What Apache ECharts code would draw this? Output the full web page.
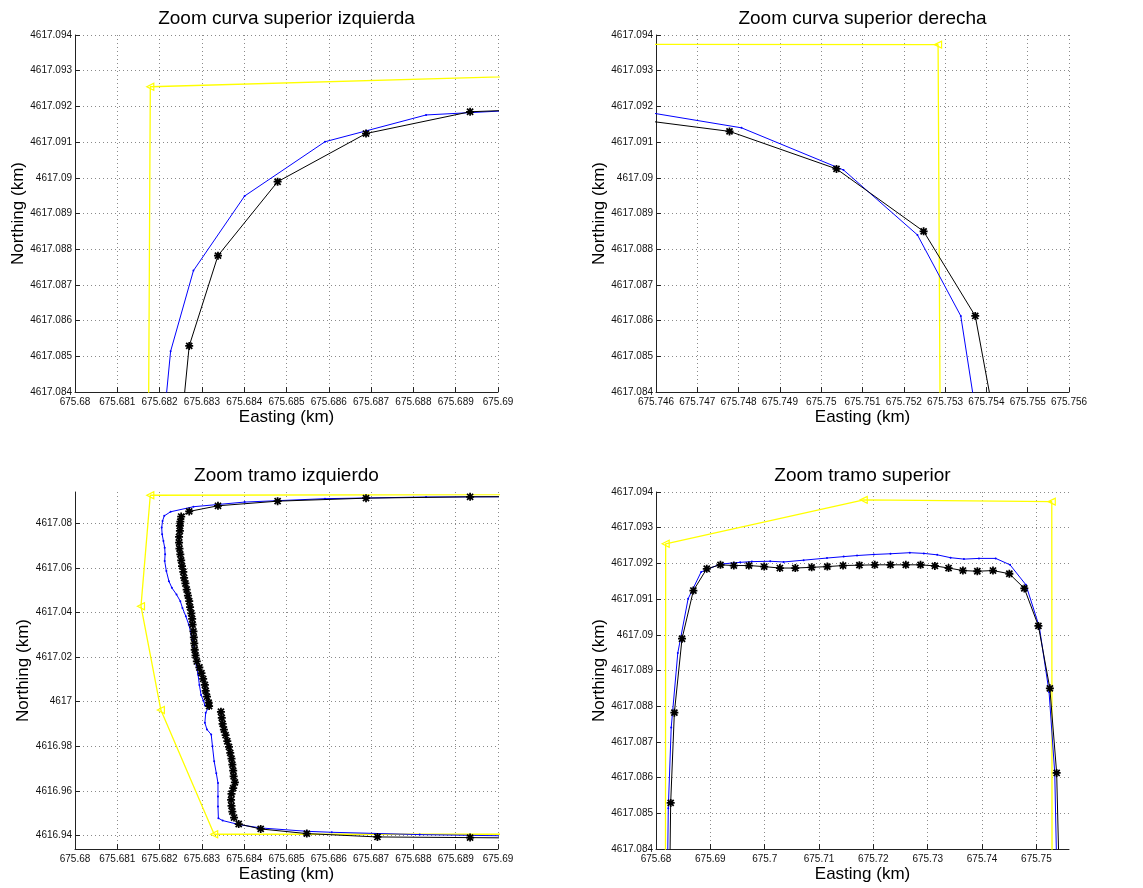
<!DOCTYPE html>
<html>
<head>
<meta charset="utf-8">
<script src="https://cdn.jsdelivr.net/npm/echarts@6/dist/echarts.min.js"></script>
<style>
  html, body { margin: 0; padding: 0; background: #fff; }
  #chart { width: 1143px; height: 888px; }
</style>
</head>
<body>
<div id="chart"></div>
<script>
// Track coordinates, [Easting km, Northing km]

// Reference polygon (vertices marked with triangles)
const yellowTrack = [
  [675.75290, 4617.07900],
  [675.75283, 4617.09373],
  [675.71823, 4617.09378],
  [675.68178, 4617.09255],
  [675.68156, 4617.04283],
  [675.68203, 4616.99627],
  [675.68329, 4616.94060],
  [675.70000, 4616.94060]
];

// Continuous trajectory
const blueTrack = [
  [675.75400, 4617.08150], [675.75338, 4617.08613], [675.75233, 4617.08840],
  [675.75054, 4617.09022], [675.74807, 4617.09140], [675.74515, 4617.09196],
  [675.74251, 4617.09214], [675.73943, 4617.09214], [675.73667, 4617.09212],
  [675.73421, 4617.09216], [675.73175, 4617.09224], [675.72929, 4617.09228],
  [675.72671, 4617.09230], [675.72315, 4617.09227], [675.72007, 4617.09225],
  [675.71700, 4617.09222], [675.71454, 4617.09219], [675.71147, 4617.09215],
  [675.70717, 4617.09209], [675.70348, 4617.09204], [675.70102, 4617.09206],
  [675.69764, 4617.09205], [675.69549, 4617.09203], [675.69180, 4617.09198],
  [675.68830, 4617.09176], [675.68690, 4617.09132], [675.68591, 4617.09101],
  [675.68401, 4617.08949], [675.68280, 4617.08740], [675.68226, 4617.08514],
  [675.68211, 4617.08330], [675.68207, 4617.08105], [675.68205, 4617.07805],
  [675.68206, 4617.07505], [675.68209, 4617.07205], [675.68212, 4617.06905],
  [675.68213, 4617.06605], [675.68212, 4617.06305], [675.68216, 4617.05855],
  [675.68222, 4617.05405], [675.68229, 4617.05105], [675.68240, 4617.04805],
  [675.68249, 4617.04505], [675.68254, 4617.04205], [675.68262, 4617.03830],
  [675.68269, 4617.03455], [675.68275, 4617.03005], [675.68280, 4617.02555],
  [675.68283, 4617.02105], [675.68287, 4617.01655], [675.68291, 4617.01205],
  [675.68294, 4617.00755], [675.68298, 4617.00305], [675.68304, 4617.00030],
  [675.68307, 4616.99835], [675.68317, 4616.99805], [675.68309, 4616.99505],
  [675.68307, 4616.99055], [675.68312, 4616.98755], [675.68322, 4616.98530],
  [675.68325, 4616.98000], [675.68329, 4616.97330], [675.68334, 4616.96800],
  [675.68338, 4616.96355], [675.68338, 4616.95755], [675.68338, 4616.95305],
  [675.68339, 4616.94780], [675.68349, 4616.94674], [675.68388, 4616.94493],
  [675.68439, 4616.94343], [675.68548, 4616.94194], [675.68607, 4616.94149],
  [675.68815, 4616.94045], [675.69200, 4616.93940]
];

// Sampled positions, northern run (right side, top, upper left side)
const blackTrackNorth = [
  [675.75447, 4617.08150], [675.75373, 4617.08613], [675.75248, 4617.08850],
  [675.75037, 4617.09025], [675.74778, 4617.09130], [675.74502, 4617.09171],
  [675.74201, 4617.09180], [675.73913, 4617.09178], [675.73648, 4617.09180],
  [675.73384, 4617.09187], [675.73132, 4617.09193], [675.72868, 4617.09196],
  [675.72597, 4617.09196], [675.72314, 4617.09196], [675.72026, 4617.09196],
  [675.71743, 4617.09195], [675.71442, 4617.09194], [675.71153, 4617.09191],
  [675.70864, 4617.09189], [675.70563, 4617.09187], [675.70280, 4617.09187],
  [675.69991, 4617.09191], [675.69709, 4617.09194], [675.69432, 4617.09194],
  [675.69186, 4617.09196], [675.68934, 4617.09185], [675.68688, 4617.09124],
  [675.68479, 4617.08989], [675.68338, 4617.08782], [675.68270, 4617.08529],
  [675.68251, 4617.08300], [675.68249, 4617.08075], [675.68248, 4617.07880],
  [675.68248, 4617.07655], [675.68246, 4617.07385], [675.68246, 4617.07130],
  [675.68247, 4617.06860], [675.68249, 4617.06605], [675.68251, 4617.06335],
  [675.68253, 4617.06080], [675.68256, 4617.05825], [675.68258, 4617.05555],
  [675.68261, 4617.05300], [675.68264, 4617.05030], [675.68267, 4617.04760],
  [675.68270, 4617.04505], [675.68272, 4617.04235], [675.68275, 4617.03965],
  [675.68277, 4617.03710], [675.68278, 4617.03455], [675.68280, 4617.03155],
  [675.68281, 4617.02885], [675.68282, 4617.02615], [675.68283, 4617.02330],
  [675.68285, 4617.02075], [675.68288, 4617.01805], [675.68294, 4617.01535],
  [675.68299, 4617.01280], [675.68303, 4617.01025], [675.68307, 4617.00755],
  [675.68309, 4617.00485], [675.68312, 4617.00225], [675.68316, 4616.99955],
  [675.68317, 4616.99806]
];

// Sampled positions, southern run (lower left side, bottom)
const blackTrackSouth = [
  [675.68345, 4616.99550], [675.68347, 4616.99280], [675.68349, 4616.99010],
  [675.68352, 4616.98755], [675.68356, 4616.98500], [675.68360, 4616.98230],
  [675.68364, 4616.97975], [675.68367, 4616.97705], [675.68370, 4616.97450],
  [675.68372, 4616.97180], [675.68374, 4616.96910], [675.68375, 4616.96655],
  [675.68378, 4616.96385], [675.68374, 4616.96130], [675.68370, 4616.95875],
  [675.68369, 4616.95605], [675.68370, 4616.95335], [675.68372, 4616.95080],
  [675.68376, 4616.94810], [675.68387, 4616.94520], [675.68439, 4616.94299],
  [675.68548, 4616.94090], [675.68715, 4616.93940], [675.68934, 4616.93910],
  [675.69160, 4616.93880]
];

// Tick values
const eastTicksWest = [675.680, 675.681, 675.682, 675.683, 675.684, 675.685, 675.686, 675.687, 675.688, 675.689, 675.690];
const eastTicksEast = [675.746, 675.747, 675.748, 675.749, 675.750, 675.751, 675.752, 675.753, 675.754, 675.755, 675.756];
const eastTicksWide = [675.68, 675.69, 675.70, 675.71, 675.72, 675.73, 675.74, 675.75];
const northTicksTop = [4617.084, 4617.085, 4617.086, 4617.087, 4617.088, 4617.089, 4617.090, 4617.091, 4617.092, 4617.093, 4617.094];
const northTicksWest = [4616.94, 4616.96, 4616.98, 4617.00, 4617.02, 4617.04, 4617.06, 4617.08];

const panelTitles = [
  'Zoom curva superior izquierda',
  'Zoom curva superior derecha',
  'Zoom tramo izquierdo',
  'Zoom tramo superior'
];

// Panel layout and axis windows
const panels = [
  { left: 75,  top: 35,  width: 423, height: 357, xr: [675.68, 675.69],  yr: [4617.084, 4617.094], xt: eastTicksWest, yt: northTicksTop, yGap: 46 },
  { left: 656, top: 35,  width: 413, height: 357, xr: [675.746, 675.756], yr: [4617.084, 4617.094], xt: eastTicksEast, yt: northTicksTop, yGap: 46 },
  { left: 75,  top: 492, width: 423, height: 357, xr: [675.68, 675.69],  yr: [4616.934, 4617.094], xt: eastTicksWest, yt: northTicksWest, yGap: 42 },
  { left: 656, top: 492, width: 413, height: 357, xr: [675.68, 675.756], yr: [4617.084, 4617.094], xt: eastTicksWide, yt: northTicksTop, yGap: 46 }
];

const FONT = '"Liberation Sans", Arial, Helvetica, sans-serif';
// Eight-armed asterisk marker
const ASTERISK = 'path://M3.9,0L6.1,0L6.1,10L3.9,10Z M0,3.9L10,3.9L10,6.1L0,6.1Z ' +
  'M0.43,1.97L1.97,0.43L9.57,8.03L8.03,9.57Z M8.03,0.43L9.57,1.97L1.97,9.57L0.43,8.03Z';

function fmt(v) { return String(+(+v).toFixed(3)); }

const grid = [], xAxis = [], yAxis = [], series = [], graphic = [];

panels.forEach((p, i) => {
  grid.push({ left: p.left, top: p.top, width: p.width, height: p.height, containLabel: false });

  const common = {
    type: 'value',
    gridIndex: i,
    nameLocation: 'middle',
    nameTextStyle: { fontFamily: FONT, fontSize: 17, color: '#000' },
    axisLine: { show: true, onZero: false, lineStyle: { color: '#222', width: 1 } },
    axisTick: { show: true, inside: true, length: 5, lineStyle: { color: '#222', width: 1 } },
    axisLabel: { fontFamily: FONT, fontSize: 10, color: '#111', formatter: fmt },
    splitLine: { show: true, lineStyle: { color: '#8a8a8a', width: 1, type: [1, 3] } }
  };

  xAxis.push(Object.assign({}, common, {
    name: 'Easting (km)', nameGap: 17, position: 'bottom',
    min: p.xr[0], max: p.xr[1],
    axisTick: Object.assign({}, common.axisTick, { customValues: p.xt }),
    axisLabel: Object.assign({}, common.axisLabel, { customValues: p.xt, margin: 5 })
  }));
  yAxis.push(Object.assign({}, common, {
    name: 'Northing (km)', nameGap: p.yGap, position: 'left',
    min: p.yr[0], max: p.yr[1],
    axisTick: Object.assign({}, common.axisTick, { customValues: p.yt }),
    axisLabel: Object.assign({}, common.axisLabel, { customValues: p.yt, margin: 3 })
  }));

  series.push({
    type: 'line', xAxisIndex: i, yAxisIndex: i, data: yellowTrack, clip: true,
    symbol: 'triangle', symbolRotate: 90, symbolSize: 7, showSymbol: true,
    lineStyle: { color: '#ffff00', width: 1.3 },
    itemStyle: { color: 'rgba(255,255,255,0)', borderColor: '#ffff00', borderWidth: 1.2 },
    z: 2
  });
  series.push({
    type: 'line', xAxisIndex: i, yAxisIndex: i, data: blueTrack, clip: true,
    symbol: 'circle', symbolSize: 2, showSymbol: true,
    lineStyle: { color: '#0000ff', width: 1 },
    itemStyle: { color: '#0000ff' },
    z: 3
  });
  [blackTrackNorth, blackTrackSouth].forEach(track => {
    series.push({
      type: 'line', xAxisIndex: i, yAxisIndex: i, data: track, clip: true,
      symbol: ASTERISK, symbolSize: 8, showSymbol: true,
      lineStyle: { color: '#000', width: 1 },
      itemStyle: { color: '#000' },
      z: 4
    });
  });

  graphic.push({
    type: 'text',
    x: p.left + p.width / 2,
    y: i < 2 ? 18.5 : 476,
    silent: true,
    style: {
      text: panelTitles[i], fill: '#000',
      font: '19px ' + FONT, textAlign: 'center', textVerticalAlign: 'middle'
    }
  });
});

const chart = echarts.init(document.getElementById('chart'), null, { renderer: 'canvas' });
chart.setOption({
  animation: false,
  backgroundColor: '#fff',
  grid, xAxis, yAxis, series, graphic
});
</script>
</body>
</html>
